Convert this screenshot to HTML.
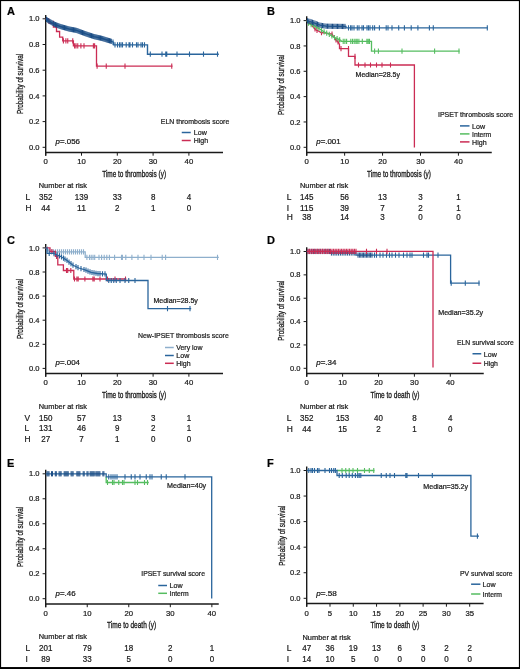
<!DOCTYPE html>
<html><head><meta charset="utf-8"><title>Figure</title>
<style>
html,body{margin:0;padding:0;background:#fff;}
body{width:520px;height:669px;overflow:hidden;}
svg{display:block;will-change:transform;}
text{stroke:#1a1a1a;stroke-width:0.22px;}
svg{font-family:"Liberation Sans",sans-serif;}
</style></head>
<body>
<svg width="520" height="669" viewBox="0 0 520 669">
<rect x="0" y="0" width="520" height="669" fill="#fff"/>
<text x="6.9" y="15" font-size="11" font-weight="bold" fill="#000">A</text>
<line x1="45.7" y1="15" x2="45.7" y2="155.7" stroke="#1a1a1a" stroke-width="1.4"/>
<line x1="45" y1="152.5" x2="223" y2="152.5" stroke="#1a1a1a" stroke-width="1.4"/>
<line x1="42.6" y1="18.8" x2="45.7" y2="18.8" stroke="#1a1a1a" stroke-width="1"/>
<text x="39.5" y="21.4" font-size="7.9" text-anchor="end" textLength="10.5" lengthAdjust="spacingAndGlyphs" fill="#1a1a1a">1.0</text>
<line x1="42.6" y1="44.5" x2="45.7" y2="44.5" stroke="#1a1a1a" stroke-width="1"/>
<text x="39.5" y="47.1" font-size="7.9" text-anchor="end" textLength="10.5" lengthAdjust="spacingAndGlyphs" fill="#1a1a1a">0.8</text>
<line x1="42.6" y1="70.2" x2="45.7" y2="70.2" stroke="#1a1a1a" stroke-width="1"/>
<text x="39.5" y="72.8" font-size="7.9" text-anchor="end" textLength="10.5" lengthAdjust="spacingAndGlyphs" fill="#1a1a1a">0.6</text>
<line x1="42.6" y1="95.9" x2="45.7" y2="95.9" stroke="#1a1a1a" stroke-width="1"/>
<text x="39.5" y="98.5" font-size="7.9" text-anchor="end" textLength="10.5" lengthAdjust="spacingAndGlyphs" fill="#1a1a1a">0.4</text>
<line x1="42.6" y1="121.6" x2="45.7" y2="121.6" stroke="#1a1a1a" stroke-width="1"/>
<text x="39.5" y="124.2" font-size="7.9" text-anchor="end" textLength="10.5" lengthAdjust="spacingAndGlyphs" fill="#1a1a1a">0.2</text>
<line x1="42.6" y1="147.3" x2="45.7" y2="147.3" stroke="#1a1a1a" stroke-width="1"/>
<text x="39.5" y="149.9" font-size="7.9" text-anchor="end" textLength="10.5" lengthAdjust="spacingAndGlyphs" fill="#1a1a1a">0.0</text>
<line x1="45.7" y1="152.5" x2="45.7" y2="155.7" stroke="#1a1a1a" stroke-width="1"/>
<text x="45.7" y="164.2" font-size="7.9" text-anchor="middle" textLength="4.3" lengthAdjust="spacingAndGlyphs" fill="#1a1a1a">0</text>
<line x1="81.5" y1="152.5" x2="81.5" y2="155.7" stroke="#1a1a1a" stroke-width="1"/>
<text x="81.5" y="164.2" font-size="7.9" text-anchor="middle" textLength="8.6" lengthAdjust="spacingAndGlyphs" fill="#1a1a1a">10</text>
<line x1="117.3" y1="152.5" x2="117.3" y2="155.7" stroke="#1a1a1a" stroke-width="1"/>
<text x="117.3" y="164.2" font-size="7.9" text-anchor="middle" textLength="8.6" lengthAdjust="spacingAndGlyphs" fill="#1a1a1a">20</text>
<line x1="153.1" y1="152.5" x2="153.1" y2="155.7" stroke="#1a1a1a" stroke-width="1"/>
<text x="153.1" y="164.2" font-size="7.9" text-anchor="middle" textLength="8.6" lengthAdjust="spacingAndGlyphs" fill="#1a1a1a">30</text>
<line x1="188.9" y1="152.5" x2="188.9" y2="155.7" stroke="#1a1a1a" stroke-width="1"/>
<text x="188.9" y="164.2" font-size="7.9" text-anchor="middle" textLength="8.6" lengthAdjust="spacingAndGlyphs" fill="#1a1a1a">40</text>
<text transform="translate(23 84) rotate(-90)" x="0" y="0" font-size="9.4" text-anchor="middle" textLength="60.2" lengthAdjust="spacingAndGlyphs" style="stroke-width:0.3px" fill="#1a1a1a">Probability of survival</text>
<text x="102.2" y="176.9" font-size="8.8" textLength="63.9" lengthAdjust="spacingAndGlyphs" fill="#1a1a1a" style="stroke-width:0.32px">Time to thrombosis (y)</text>
<text x="55.6" y="143.9" font-size="7.1" fill="#1a1a1a" textLength="24.4" lengthAdjust="spacingAndGlyphs"><tspan font-style="italic">p</tspan>=.056</text>
<text x="160.75" y="123.7" font-size="7.4" textLength="68.5" lengthAdjust="spacingAndGlyphs" fill="#1a1a1a">ELN thrombosis score</text>
<line x1="181.75" y1="132.5" x2="190.75" y2="132.5" stroke="#2a659c" stroke-width="1.5"/>
<text x="193.75" y="135.4" font-size="7.4" textLength="13" lengthAdjust="spacingAndGlyphs" fill="#1a1a1a">Low</text>
<line x1="181.75" y1="140.5" x2="190.75" y2="140.5" stroke="#cb2c54" stroke-width="1.5"/>
<text x="193.75" y="143.4" font-size="7.4" textLength="14.4" lengthAdjust="spacingAndGlyphs" fill="#1a1a1a">High</text>
<text x="38.75" y="187.9" font-size="7.3" textLength="48.2" lengthAdjust="spacingAndGlyphs" fill="#1a1a1a">Number at risk</text>
<text x="25.5" y="200" font-size="8.4" fill="#1a1a1a">L</text>
<text x="45.7" y="200" font-size="8.5" text-anchor="middle" textLength="13.35" lengthAdjust="spacingAndGlyphs" fill="#1a1a1a">352</text>
<text x="81.5" y="200" font-size="8.5" text-anchor="middle" textLength="13.35" lengthAdjust="spacingAndGlyphs" fill="#1a1a1a">139</text>
<text x="117.3" y="200" font-size="8.5" text-anchor="middle" textLength="8.9" lengthAdjust="spacingAndGlyphs" fill="#1a1a1a">33</text>
<text x="153.1" y="200" font-size="8.5" text-anchor="middle" textLength="4.45" lengthAdjust="spacingAndGlyphs" fill="#1a1a1a">8</text>
<text x="188.9" y="200" font-size="8.5" text-anchor="middle" textLength="4.45" lengthAdjust="spacingAndGlyphs" fill="#1a1a1a">4</text>
<text x="25.5" y="210.5" font-size="8.4" fill="#1a1a1a">H</text>
<text x="45.7" y="210.5" font-size="8.5" text-anchor="middle" textLength="8.9" lengthAdjust="spacingAndGlyphs" fill="#1a1a1a">44</text>
<text x="81.5" y="210.5" font-size="8.5" text-anchor="middle" textLength="8.9" lengthAdjust="spacingAndGlyphs" fill="#1a1a1a">11</text>
<text x="117.3" y="210.5" font-size="8.5" text-anchor="middle" textLength="4.45" lengthAdjust="spacingAndGlyphs" fill="#1a1a1a">2</text>
<text x="153.1" y="210.5" font-size="8.5" text-anchor="middle" textLength="4.45" lengthAdjust="spacingAndGlyphs" fill="#1a1a1a">1</text>
<text x="188.9" y="210.5" font-size="8.5" text-anchor="middle" textLength="4.45" lengthAdjust="spacingAndGlyphs" fill="#1a1a1a">0</text>
<path d="M45.7 18.8 L48.5 18.8 L48.5 21.5 L50 21.5 L50 23.4 L53.4 23.4 L53.4 27 L56.5 27 L56.5 31.5 L59.6 31.5 L59.6 37.1 L62.75 37.1 L62.75 40.9 L73.4 40.9 L73.4 45.9 L96.5 45.9 L96.5 66.2 L172.5 66.2" fill="none" stroke="#cb2c54" stroke-width="1.3" stroke-linejoin="miter"/>
<path d="M49 18.9v5.2M53.4 20.8v5.2M56.5 24.4v5.2M63.4 38.3v5.2M65.9 38.3v5.2M67.75 38.3v5.2M72.75 38.3v5.2M74.6 43.3v5.2M76 43.3v5.2M77.75 43.3v5.2M80.9 43.3v5.2M84 43.3v5.2M93.4 43.3v5.2M94.6 43.3v5.2M97.1 63.6v5.2M106.25 63.6v5.2M125 63.6v5.2M171.75 63.6v5.2" stroke="#cb2c54" stroke-width="1.1" fill="none"/>
<path d="M45.7 18.8 L48 20.5 L52 22.8 L55.3 24.6 L60.3 26.5 L69 29 L76.5 30.4 L85.3 33.7 L94 36.6 L101.5 38.3 L107 40 L111 41.2 L113.5 42.3 L113.5 44.9 L147.5 44.9 L147.5 54.2 L218.8 54.2" fill="none" stroke="#2a659c" stroke-width="1.4" stroke-linejoin="miter"/>
<path d="M113 39.48v5.2M115 42.3v5.2M117.5 42.3v5.2M119.5 42.3v5.2M121 42.3v5.2M122.5 42.3v5.2M126.2 42.3v5.2M129 42.3v5.2M130 42.3v5.2M132.5 42.3v5.2M136.5 42.3v5.2M138 42.3v5.2M141 42.3v5.2M142.5 42.3v5.2M144.5 42.3v5.2M150.3 51.6v5.2M162 51.6v5.2M165.75 51.6v5.2M166.75 51.6v5.2M177 51.6v5.2M189.5 51.6v5.2M203.5 51.6v5.2M217.5 51.6v5.2" stroke="#2a659c" stroke-width="1.1" fill="none"/>
<path d="M46.5 16.79v5.2M47.4 17.46v5.2M48.3 18.07v5.2M49.2 18.59v5.2M50.1 19.11v5.2M51 19.62v5.2M51.9 20.14v5.2M52.8 20.64v5.2M53.7 21.13v5.2M54.6 21.62v5.2M55.5 22.08v5.2M56.4 22.42v5.2M57.3 22.76v5.2M58.2 23.1v5.2M59.1 23.44v5.2M60 23.79v5.2M60.9 24.07v5.2M61.8 24.33v5.2M62.7 24.59v5.2M63.6 24.85v5.2M64.5 25.11v5.2M65.4 25.37v5.2M66.3 25.62v5.2M67.2 25.88v5.2M68.1 26.14v5.2M69 26.4v5.2M69.9 26.57v5.2M70.8 26.74v5.2M71.7 26.9v5.2M72.6 27.07v5.2M73.5 27.24v5.2M74.4 27.41v5.2M75.3 27.58v5.2M76.2 27.74v5.2M77.1 28.02v5.2M78 28.36v5.2M78.9 28.7v5.2M79.8 29.04v5.2M80.7 29.38v5.2M81.6 29.71v5.2M82.5 30.05v5.2M83.4 30.39v5.2M84.3 30.73v5.2M85.2 31.06v5.2M86.1 31.37v5.2M87 31.67v5.2M87.9 31.97v5.2M88.8 32.27v5.2M89.7 32.57v5.2M90.6 32.87v5.2M91.5 33.17v5.2M92.4 33.47v5.2M93.3 33.77v5.2M94.2 34.05v5.2M95.1 34.25v5.2M96 34.45v5.2M96.9 34.66v5.2M97.8 34.86v5.2M98.7 35.07v5.2M99.6 35.27v5.2M100.5 35.47v5.2M101.4 35.68v5.2M102.3 35.95v5.2M103.2 36.23v5.2M104.1 36.5v5.2M105 36.78v5.2M105.9 37.06v5.2M106.8 37.34v5.2M107.7 37.61v5.2M108.6 37.88v5.2M109.5 38.15v5.2M110.4 38.42v5.2M111.3 38.73v5.2" stroke="#1b4d85" stroke-width="1" fill="none"/>
<text x="266.9" y="15" font-size="11" font-weight="bold" fill="#000">B</text>
<line x1="306.7" y1="16.25" x2="306.7" y2="155.7" stroke="#1a1a1a" stroke-width="1.4"/>
<line x1="306" y1="152.5" x2="491.75" y2="152.5" stroke="#1a1a1a" stroke-width="1.4"/>
<line x1="303.6" y1="20.6" x2="306.7" y2="20.6" stroke="#1a1a1a" stroke-width="1"/>
<text x="300.5" y="23.2" font-size="7.9" text-anchor="end" textLength="10.5" lengthAdjust="spacingAndGlyphs" fill="#1a1a1a">1.0</text>
<line x1="303.6" y1="45.94" x2="306.7" y2="45.94" stroke="#1a1a1a" stroke-width="1"/>
<text x="300.5" y="48.54" font-size="7.9" text-anchor="end" textLength="10.5" lengthAdjust="spacingAndGlyphs" fill="#1a1a1a">0.8</text>
<line x1="303.6" y1="71.28" x2="306.7" y2="71.28" stroke="#1a1a1a" stroke-width="1"/>
<text x="300.5" y="73.88" font-size="7.9" text-anchor="end" textLength="10.5" lengthAdjust="spacingAndGlyphs" fill="#1a1a1a">0.6</text>
<line x1="303.6" y1="96.62" x2="306.7" y2="96.62" stroke="#1a1a1a" stroke-width="1"/>
<text x="300.5" y="99.22" font-size="7.9" text-anchor="end" textLength="10.5" lengthAdjust="spacingAndGlyphs" fill="#1a1a1a">0.4</text>
<line x1="303.6" y1="121.96" x2="306.7" y2="121.96" stroke="#1a1a1a" stroke-width="1"/>
<text x="300.5" y="124.56" font-size="7.9" text-anchor="end" textLength="10.5" lengthAdjust="spacingAndGlyphs" fill="#1a1a1a">0.2</text>
<line x1="303.6" y1="147.3" x2="306.7" y2="147.3" stroke="#1a1a1a" stroke-width="1"/>
<text x="300.5" y="149.9" font-size="7.9" text-anchor="end" textLength="10.5" lengthAdjust="spacingAndGlyphs" fill="#1a1a1a">0.0</text>
<line x1="306.7" y1="152.5" x2="306.7" y2="155.7" stroke="#1a1a1a" stroke-width="1"/>
<text x="306.7" y="164.2" font-size="7.9" text-anchor="middle" textLength="4.3" lengthAdjust="spacingAndGlyphs" fill="#1a1a1a">0</text>
<line x1="344.63" y1="152.5" x2="344.63" y2="155.7" stroke="#1a1a1a" stroke-width="1"/>
<text x="344.63" y="164.2" font-size="7.9" text-anchor="middle" textLength="8.6" lengthAdjust="spacingAndGlyphs" fill="#1a1a1a">10</text>
<line x1="382.56" y1="152.5" x2="382.56" y2="155.7" stroke="#1a1a1a" stroke-width="1"/>
<text x="382.56" y="164.2" font-size="7.9" text-anchor="middle" textLength="8.6" lengthAdjust="spacingAndGlyphs" fill="#1a1a1a">20</text>
<line x1="420.49" y1="152.5" x2="420.49" y2="155.7" stroke="#1a1a1a" stroke-width="1"/>
<text x="420.49" y="164.2" font-size="7.9" text-anchor="middle" textLength="8.6" lengthAdjust="spacingAndGlyphs" fill="#1a1a1a">30</text>
<line x1="458.42" y1="152.5" x2="458.42" y2="155.7" stroke="#1a1a1a" stroke-width="1"/>
<text x="458.42" y="164.2" font-size="7.9" text-anchor="middle" textLength="8.6" lengthAdjust="spacingAndGlyphs" fill="#1a1a1a">40</text>
<text transform="translate(284 84.9) rotate(-90)" x="0" y="0" font-size="9.4" text-anchor="middle" textLength="60.2" lengthAdjust="spacingAndGlyphs" style="stroke-width:0.3px" fill="#1a1a1a">Probability of survival</text>
<text x="367" y="176.9" font-size="8.8" textLength="64" lengthAdjust="spacingAndGlyphs" fill="#1a1a1a" style="stroke-width:0.32px">Time to thrombosis (y)</text>
<text x="316.25" y="143.9" font-size="7.1" fill="#1a1a1a" textLength="24.4" lengthAdjust="spacingAndGlyphs"><tspan font-style="italic">p</tspan>=.001</text>
<text x="438" y="117.1" font-size="7.4" textLength="75.25" lengthAdjust="spacingAndGlyphs" fill="#1a1a1a">IPSET thrombosis score</text>
<line x1="460" y1="125.9" x2="469.5" y2="125.9" stroke="#2a659c" stroke-width="1.5"/>
<text x="472" y="128.8" font-size="7.4" textLength="13" lengthAdjust="spacingAndGlyphs" fill="#1a1a1a">Low</text>
<line x1="460" y1="133.9" x2="469.5" y2="133.9" stroke="#55bd60" stroke-width="1.5"/>
<text x="472" y="136.8" font-size="7.4" textLength="19.25" lengthAdjust="spacingAndGlyphs" fill="#1a1a1a">Interm</text>
<line x1="460" y1="141.9" x2="469.5" y2="141.9" stroke="#cb2c54" stroke-width="1.5"/>
<text x="472" y="144.8" font-size="7.4" textLength="14.6" lengthAdjust="spacingAndGlyphs" fill="#1a1a1a">High</text>
<text x="355.6" y="77.3" font-size="7" textLength="44.4" lengthAdjust="spacingAndGlyphs" fill="#1a1a1a">Median=28.5y</text>
<text x="300" y="188.1" font-size="7.3" textLength="48.2" lengthAdjust="spacingAndGlyphs" fill="#1a1a1a">Number at risk</text>
<text x="286.8" y="199.8" font-size="8.4" fill="#1a1a1a">L</text>
<text x="306.7" y="199.8" font-size="8.5" text-anchor="middle" textLength="13.35" lengthAdjust="spacingAndGlyphs" fill="#1a1a1a">145</text>
<text x="344.63" y="199.8" font-size="8.5" text-anchor="middle" textLength="8.9" lengthAdjust="spacingAndGlyphs" fill="#1a1a1a">56</text>
<text x="382.56" y="199.8" font-size="8.5" text-anchor="middle" textLength="8.9" lengthAdjust="spacingAndGlyphs" fill="#1a1a1a">13</text>
<text x="420.49" y="199.8" font-size="8.5" text-anchor="middle" textLength="4.45" lengthAdjust="spacingAndGlyphs" fill="#1a1a1a">3</text>
<text x="458.42" y="199.8" font-size="8.5" text-anchor="middle" textLength="4.45" lengthAdjust="spacingAndGlyphs" fill="#1a1a1a">1</text>
<text x="286.8" y="210.6" font-size="8.4" fill="#1a1a1a">I</text>
<text x="306.7" y="210.6" font-size="8.5" text-anchor="middle" textLength="13.35" lengthAdjust="spacingAndGlyphs" fill="#1a1a1a">115</text>
<text x="344.63" y="210.6" font-size="8.5" text-anchor="middle" textLength="8.9" lengthAdjust="spacingAndGlyphs" fill="#1a1a1a">39</text>
<text x="382.56" y="210.6" font-size="8.5" text-anchor="middle" textLength="4.45" lengthAdjust="spacingAndGlyphs" fill="#1a1a1a">7</text>
<text x="420.49" y="210.6" font-size="8.5" text-anchor="middle" textLength="4.45" lengthAdjust="spacingAndGlyphs" fill="#1a1a1a">2</text>
<text x="458.42" y="210.6" font-size="8.5" text-anchor="middle" textLength="4.45" lengthAdjust="spacingAndGlyphs" fill="#1a1a1a">1</text>
<text x="286.8" y="220.2" font-size="8.4" fill="#1a1a1a">H</text>
<text x="306.7" y="220.2" font-size="8.5" text-anchor="middle" textLength="8.9" lengthAdjust="spacingAndGlyphs" fill="#1a1a1a">38</text>
<text x="344.63" y="220.2" font-size="8.5" text-anchor="middle" textLength="8.9" lengthAdjust="spacingAndGlyphs" fill="#1a1a1a">14</text>
<text x="382.56" y="220.2" font-size="8.5" text-anchor="middle" textLength="4.45" lengthAdjust="spacingAndGlyphs" fill="#1a1a1a">3</text>
<text x="420.49" y="220.2" font-size="8.5" text-anchor="middle" textLength="4.45" lengthAdjust="spacingAndGlyphs" fill="#1a1a1a">0</text>
<text x="458.42" y="220.2" font-size="8.5" text-anchor="middle" textLength="4.45" lengthAdjust="spacingAndGlyphs" fill="#1a1a1a">0</text>
<path d="M306.7 20.6 L309 22.5 L312 25.5 L314 28 L316 30 L318 30.8 L321 32.5 L326 33.2 L332 34 L334 37 L336 40 L338 42 L339.5 44.5 L339.5 48.6 L348.5 48.6 L348.5 56.4 L355 56.4 L355 65 L414.4 65 L414.4 147.4" fill="none" stroke="#cb2c54" stroke-width="1.3" stroke-linejoin="miter"/>
<path d="M315 26.4v5.2M317 27.8v5.2M321.5 29.97v5.2M332 31.4v5.2M336 37.4v5.2M338 39.4v5.2M341 46v5.2M348.5 46v5.2M355 53.8v5.2M358.5 62.4v5.2M365 62.4v5.2M370.5 62.4v5.2M376.5 62.4v5.2M382 62.4v5.2M390.5 62.4v5.2" stroke="#cb2c54" stroke-width="1.1" fill="none"/>
<path d="M306.7 20.6 L309 23.8 L313.7 25.7 L316.8 27.2 L320.6 29.5 L324.5 32.2 L328.3 33.8 L331.4 35.7 L334.5 37.6 L338.3 39.2 L341 40.5 L341 41.4 L371.5 41.4 L371.5 51.2 L459.6 51.2" fill="none" stroke="#55bd60" stroke-width="1.3" stroke-linejoin="miter"/>
<path d="M308.5 20.5v5.2M311.1 22.05v5.2M313.7 23.1v5.2M316.3 24.36v5.2M318.9 25.87v5.2M321.5 27.52v5.2M324.1 29.32v5.2M326.7 30.53v5.2M329.3 31.81v5.2M331.9 33.41v5.2M334.5 35v5.2M337.1 36.09v5.2M339.7 37.27v5.2M339.4 37.13v5.2M343.2 38.8v5.2M344.9 38.8v5.2M346.6 38.8v5.2M350.8 38.8v5.2M352.5 38.8v5.2M354.2 38.8v5.2M355.9 38.8v5.2M357.2 38.8v5.2M358.9 38.8v5.2M362.3 38.8v5.2M366.9 38.8v5.2M368.2 38.8v5.2M369.5 38.8v5.2M374.6 48.6v5.2M378.4 48.6v5.2M402 48.6v5.2M434.6 48.6v5.2M459 48.6v5.2" stroke="#55bd60" stroke-width="1.1" fill="none"/>
<path d="M306.7 20.6 L310 21.5 L314 22.8 L320 25.2 L326 26.2 L346 26.5 L346 27.9 L487.7 27.9" fill="none" stroke="#2a659c" stroke-width="1.3" stroke-linejoin="miter"/>
<path d="M348.5 25.3v5.2M350.6 25.3v5.2M352 25.3v5.2M354 25.3v5.2M357.3 25.3v5.2M359 25.3v5.2M362 25.3v5.2M363.5 25.3v5.2M367 25.3v5.2M368.5 25.3v5.2M370 25.3v5.2M372.7 25.3v5.2M374.6 25.3v5.2M379.4 25.3v5.2M386.2 25.3v5.2M388 25.3v5.2M392 25.3v5.2M398.7 25.3v5.2M404.4 25.3v5.2M411.2 25.3v5.2M417.9 25.3v5.2M429.4 25.3v5.2M433.3 25.3v5.2M487.3 25.3v5.2" stroke="#2a659c" stroke-width="1.1" fill="none"/>
<path d="M307.5 18.22v5.2M308.75 18.56v5.2M310 18.9v5.2M311.25 19.31v5.2M312.5 19.71v5.2M313.75 20.12v5.2M315 20.6v5.2M316.25 21.1v5.2M317.5 21.6v5.2M318.75 22.1v5.2M320 22.6v5.2M321.25 22.81v5.2M322.5 23.02v5.2M323.75 23.22v5.2M325 23.43v5.2M326.25 23.6v5.2M327.5 23.62v5.2M328.75 23.64v5.2M330 23.66v5.2M331.25 23.68v5.2M332.5 23.7v5.2M333.75 23.72v5.2M335 23.73v5.2M336.25 23.75v5.2M337.5 23.77v5.2M338.75 23.79v5.2M340 23.81v5.2M341.25 23.83v5.2M342.5 23.85v5.2M343.75 23.87v5.2M345 23.88v5.2" stroke="#1b4d85" stroke-width="1" fill="none"/>
<text x="6.9" y="243.75" font-size="11" font-weight="bold" fill="#000">C</text>
<line x1="45.7" y1="244" x2="45.7" y2="376.7" stroke="#1a1a1a" stroke-width="1.4"/>
<line x1="45" y1="373.5" x2="223" y2="373.5" stroke="#1a1a1a" stroke-width="1.4"/>
<line x1="42.6" y1="247.9" x2="45.7" y2="247.9" stroke="#1a1a1a" stroke-width="1"/>
<text x="39.5" y="250.5" font-size="7.9" text-anchor="end" textLength="10.5" lengthAdjust="spacingAndGlyphs" fill="#1a1a1a">1.0</text>
<line x1="42.6" y1="272" x2="45.7" y2="272" stroke="#1a1a1a" stroke-width="1"/>
<text x="39.5" y="274.6" font-size="7.9" text-anchor="end" textLength="10.5" lengthAdjust="spacingAndGlyphs" fill="#1a1a1a">0.8</text>
<line x1="42.6" y1="296.1" x2="45.7" y2="296.1" stroke="#1a1a1a" stroke-width="1"/>
<text x="39.5" y="298.7" font-size="7.9" text-anchor="end" textLength="10.5" lengthAdjust="spacingAndGlyphs" fill="#1a1a1a">0.6</text>
<line x1="42.6" y1="320.2" x2="45.7" y2="320.2" stroke="#1a1a1a" stroke-width="1"/>
<text x="39.5" y="322.8" font-size="7.9" text-anchor="end" textLength="10.5" lengthAdjust="spacingAndGlyphs" fill="#1a1a1a">0.4</text>
<line x1="42.6" y1="344.3" x2="45.7" y2="344.3" stroke="#1a1a1a" stroke-width="1"/>
<text x="39.5" y="346.9" font-size="7.9" text-anchor="end" textLength="10.5" lengthAdjust="spacingAndGlyphs" fill="#1a1a1a">0.2</text>
<line x1="42.6" y1="368.4" x2="45.7" y2="368.4" stroke="#1a1a1a" stroke-width="1"/>
<text x="39.5" y="371" font-size="7.9" text-anchor="end" textLength="10.5" lengthAdjust="spacingAndGlyphs" fill="#1a1a1a">0.0</text>
<line x1="45.7" y1="373.5" x2="45.7" y2="376.7" stroke="#1a1a1a" stroke-width="1"/>
<text x="45.7" y="385.3" font-size="7.9" text-anchor="middle" textLength="4.3" lengthAdjust="spacingAndGlyphs" fill="#1a1a1a">0</text>
<line x1="81.5" y1="373.5" x2="81.5" y2="376.7" stroke="#1a1a1a" stroke-width="1"/>
<text x="81.5" y="385.3" font-size="7.9" text-anchor="middle" textLength="8.6" lengthAdjust="spacingAndGlyphs" fill="#1a1a1a">10</text>
<line x1="117.3" y1="373.5" x2="117.3" y2="376.7" stroke="#1a1a1a" stroke-width="1"/>
<text x="117.3" y="385.3" font-size="7.9" text-anchor="middle" textLength="8.6" lengthAdjust="spacingAndGlyphs" fill="#1a1a1a">20</text>
<line x1="153.1" y1="373.5" x2="153.1" y2="376.7" stroke="#1a1a1a" stroke-width="1"/>
<text x="153.1" y="385.3" font-size="7.9" text-anchor="middle" textLength="8.6" lengthAdjust="spacingAndGlyphs" fill="#1a1a1a">30</text>
<line x1="188.9" y1="373.5" x2="188.9" y2="376.7" stroke="#1a1a1a" stroke-width="1"/>
<text x="188.9" y="385.3" font-size="7.9" text-anchor="middle" textLength="8.6" lengthAdjust="spacingAndGlyphs" fill="#1a1a1a">40</text>
<text transform="translate(23.1 309) rotate(-90)" x="0" y="0" font-size="9.4" text-anchor="middle" textLength="60.2" lengthAdjust="spacingAndGlyphs" style="stroke-width:0.3px" fill="#1a1a1a">Probability of survival</text>
<text x="102" y="397.9" font-size="8.8" textLength="64.2" lengthAdjust="spacingAndGlyphs" fill="#1a1a1a" style="stroke-width:0.32px">Time to thrombosis (y)</text>
<text x="55.6" y="365.1" font-size="7.1" fill="#1a1a1a" textLength="24.4" lengthAdjust="spacingAndGlyphs"><tspan font-style="italic">p</tspan>=.004</text>
<text x="138" y="338.1" font-size="7.4" textLength="90.75" lengthAdjust="spacingAndGlyphs" fill="#1a1a1a">New-IPSET thrombosis score</text>
<line x1="165" y1="347.5" x2="173.75" y2="347.5" stroke="#8eafcc" stroke-width="1.5"/>
<text x="176.25" y="350.4" font-size="7.4" textLength="26.25" lengthAdjust="spacingAndGlyphs" fill="#1a1a1a">Very low</text>
<line x1="165" y1="355.5" x2="173.75" y2="355.5" stroke="#2a659c" stroke-width="1.5"/>
<text x="176.25" y="358.4" font-size="7.4" textLength="13" lengthAdjust="spacingAndGlyphs" fill="#1a1a1a">Low</text>
<line x1="165" y1="363.3" x2="173.75" y2="363.3" stroke="#cb2c54" stroke-width="1.5"/>
<text x="176.25" y="366.2" font-size="7.4" textLength="14.4" lengthAdjust="spacingAndGlyphs" fill="#1a1a1a">High</text>
<text x="153.4" y="302.9" font-size="7" textLength="44.5" lengthAdjust="spacingAndGlyphs" fill="#1a1a1a">Median=28.5y</text>
<text x="38.75" y="409.1" font-size="7.3" textLength="48.2" lengthAdjust="spacingAndGlyphs" fill="#1a1a1a">Number at risk</text>
<text x="24.5" y="420.9" font-size="8.4" fill="#1a1a1a">V</text>
<text x="45.7" y="420.9" font-size="8.5" text-anchor="middle" textLength="13.35" lengthAdjust="spacingAndGlyphs" fill="#1a1a1a">150</text>
<text x="81.5" y="420.9" font-size="8.5" text-anchor="middle" textLength="8.9" lengthAdjust="spacingAndGlyphs" fill="#1a1a1a">57</text>
<text x="117.3" y="420.9" font-size="8.5" text-anchor="middle" textLength="8.9" lengthAdjust="spacingAndGlyphs" fill="#1a1a1a">13</text>
<text x="153.1" y="420.9" font-size="8.5" text-anchor="middle" textLength="4.45" lengthAdjust="spacingAndGlyphs" fill="#1a1a1a">3</text>
<text x="188.9" y="420.9" font-size="8.5" text-anchor="middle" textLength="4.45" lengthAdjust="spacingAndGlyphs" fill="#1a1a1a">1</text>
<text x="24.5" y="431.4" font-size="8.4" fill="#1a1a1a">L</text>
<text x="45.7" y="431.4" font-size="8.5" text-anchor="middle" textLength="13.35" lengthAdjust="spacingAndGlyphs" fill="#1a1a1a">131</text>
<text x="81.5" y="431.4" font-size="8.5" text-anchor="middle" textLength="8.9" lengthAdjust="spacingAndGlyphs" fill="#1a1a1a">46</text>
<text x="117.3" y="431.4" font-size="8.5" text-anchor="middle" textLength="4.45" lengthAdjust="spacingAndGlyphs" fill="#1a1a1a">9</text>
<text x="153.1" y="431.4" font-size="8.5" text-anchor="middle" textLength="4.45" lengthAdjust="spacingAndGlyphs" fill="#1a1a1a">2</text>
<text x="188.9" y="431.4" font-size="8.5" text-anchor="middle" textLength="4.45" lengthAdjust="spacingAndGlyphs" fill="#1a1a1a">1</text>
<text x="24.5" y="441.9" font-size="8.4" fill="#1a1a1a">H</text>
<text x="45.7" y="441.9" font-size="8.5" text-anchor="middle" textLength="8.9" lengthAdjust="spacingAndGlyphs" fill="#1a1a1a">27</text>
<text x="81.5" y="441.9" font-size="8.5" text-anchor="middle" textLength="4.45" lengthAdjust="spacingAndGlyphs" fill="#1a1a1a">7</text>
<text x="117.3" y="441.9" font-size="8.5" text-anchor="middle" textLength="4.45" lengthAdjust="spacingAndGlyphs" fill="#1a1a1a">1</text>
<text x="153.1" y="441.9" font-size="8.5" text-anchor="middle" textLength="4.45" lengthAdjust="spacingAndGlyphs" fill="#1a1a1a">0</text>
<text x="188.9" y="441.9" font-size="8.5" text-anchor="middle" textLength="4.45" lengthAdjust="spacingAndGlyphs" fill="#1a1a1a">0</text>
<path d="M45.7 247.9 L48 249.5 L50 251.8 L85.2 251.8 L85.2 257.4 L218.8 257.4" fill="none" stroke="#8eafcc" stroke-width="1.3" stroke-linejoin="miter"/>
<path d="M47.5 246.55v5.2M49.5 248.63v5.2M51.5 249.2v5.2M53.5 249.2v5.2M55.5 249.2v5.2M57.5 249.2v5.2M59.5 249.2v5.2M61.5 249.2v5.2M63.5 249.2v5.2M65.5 249.2v5.2M67.5 249.2v5.2M69.5 249.2v5.2M71.5 249.2v5.2M73.5 249.2v5.2M75.5 249.2v5.2M77.5 249.2v5.2M79.5 249.2v5.2M81.5 249.2v5.2M83.5 249.2v5.2M86.9 254.8v5.2M89.5 254.8v5.2M91.2 254.8v5.2M93 254.8v5.2M94.7 254.8v5.2M99 254.8v5.2M101.6 254.8v5.2M104.2 254.8v5.2M106.8 254.8v5.2M109.4 254.8v5.2M114.6 254.8v5.2M121.5 254.8v5.2M122.4 254.8v5.2M125.8 254.8v5.2M131.9 254.8v5.2M138 254.8v5.2M144 254.8v5.2M151 254.8v5.2M162.2 254.8v5.2M165.6 254.8v5.2M217.5 254.8v5.2" stroke="#8eafcc" stroke-width="1.1" fill="none"/>
<path d="M45.7 247.9 L50 247.9 L50 251.5 L55.4 251.5 L55.4 256.3 L57.8 256.3 L57.8 264.9 L63.4 264.9 L63.4 270.5 L73.8 270.5 L73.8 279 L126.3 279" fill="none" stroke="#cb2c54" stroke-width="1.3" stroke-linejoin="miter"/>
<path d="M52 248.9v5.2M56.5 253.7v5.2M66.5 267.9v5.2M67.7 267.9v5.2M70.8 267.9v5.2M74.5 276.4v5.2M76.9 276.4v5.2M78.2 276.4v5.2M84.9 276.4v5.2M92.9 276.4v5.2M94.2 276.4v5.2M100 276.4v5.2M107.5 276.4v5.2M115 276.4v5.2M125.5 276.4v5.2" stroke="#cb2c54" stroke-width="1.1" fill="none"/>
<path d="M45.7 247.9 L47 247.9 L47 253.3 L53.5 253.3 L55 254 L60.3 256.3 L66.5 260 L72.6 265 L78.8 268 L85 269.8 L91 272.3 L97.2 273.5 L106.3 274 L106.3 280.5 L148 280.5 L148 308.7 L191.2 308.7" fill="none" stroke="#2a659c" stroke-width="1.3" stroke-linejoin="miter"/>
<path d="M49.2 250.7v5.2M54 250.93v5.2M57 252.27v5.2M59.5 253.35v5.2M61.5 254.42v5.2M63.5 255.61v5.2M65 256.5v5.2M67 257.81v5.2M69 259.45v5.2M71 261.09v5.2M73 262.59v5.2M76 264.05v5.2M78 265.01v5.2M81 266.04v5.2M84 266.91v5.2M86 267.62v5.2M88 268.45v5.2M90 269.28v5.2M92 269.89v5.2M94 270.28v5.2M96 270.67v5.2M98 270.94v5.2M100 271.05v5.2M102.5 271.19v5.2M105 271.33v5.2M108.75 277.9v5.2M111.25 277.9v5.2M113.75 277.9v5.2M116.25 277.9v5.2M120 277.9v5.2M125 277.9v5.2M128.75 277.9v5.2M135 277.9v5.2M167.5 306.1v5.2M190 306.1v5.2" stroke="#2a659c" stroke-width="1.1" fill="none"/>
<text x="266.9" y="244" font-size="11" font-weight="bold" fill="#000">D</text>
<line x1="306.7" y1="247.25" x2="306.7" y2="376.7" stroke="#1a1a1a" stroke-width="1.4"/>
<line x1="306" y1="373.5" x2="483.75" y2="373.5" stroke="#1a1a1a" stroke-width="1.4"/>
<line x1="303.6" y1="251.5" x2="306.7" y2="251.5" stroke="#1a1a1a" stroke-width="1"/>
<text x="300.5" y="254.1" font-size="7.9" text-anchor="end" textLength="10.5" lengthAdjust="spacingAndGlyphs" fill="#1a1a1a">1.0</text>
<line x1="303.6" y1="274.86" x2="306.7" y2="274.86" stroke="#1a1a1a" stroke-width="1"/>
<text x="300.5" y="277.46" font-size="7.9" text-anchor="end" textLength="10.5" lengthAdjust="spacingAndGlyphs" fill="#1a1a1a">0.8</text>
<line x1="303.6" y1="298.22" x2="306.7" y2="298.22" stroke="#1a1a1a" stroke-width="1"/>
<text x="300.5" y="300.82" font-size="7.9" text-anchor="end" textLength="10.5" lengthAdjust="spacingAndGlyphs" fill="#1a1a1a">0.6</text>
<line x1="303.6" y1="321.58" x2="306.7" y2="321.58" stroke="#1a1a1a" stroke-width="1"/>
<text x="300.5" y="324.18" font-size="7.9" text-anchor="end" textLength="10.5" lengthAdjust="spacingAndGlyphs" fill="#1a1a1a">0.4</text>
<line x1="303.6" y1="344.94" x2="306.7" y2="344.94" stroke="#1a1a1a" stroke-width="1"/>
<text x="300.5" y="347.54" font-size="7.9" text-anchor="end" textLength="10.5" lengthAdjust="spacingAndGlyphs" fill="#1a1a1a">0.2</text>
<line x1="303.6" y1="368.3" x2="306.7" y2="368.3" stroke="#1a1a1a" stroke-width="1"/>
<text x="300.5" y="370.9" font-size="7.9" text-anchor="end" textLength="10.5" lengthAdjust="spacingAndGlyphs" fill="#1a1a1a">0.0</text>
<line x1="306.7" y1="373.5" x2="306.7" y2="376.7" stroke="#1a1a1a" stroke-width="1"/>
<text x="306.7" y="385.3" font-size="7.9" text-anchor="middle" textLength="4.3" lengthAdjust="spacingAndGlyphs" fill="#1a1a1a">0</text>
<line x1="342.6" y1="373.5" x2="342.6" y2="376.7" stroke="#1a1a1a" stroke-width="1"/>
<text x="342.6" y="385.3" font-size="7.9" text-anchor="middle" textLength="8.6" lengthAdjust="spacingAndGlyphs" fill="#1a1a1a">10</text>
<line x1="378.5" y1="373.5" x2="378.5" y2="376.7" stroke="#1a1a1a" stroke-width="1"/>
<text x="378.5" y="385.3" font-size="7.9" text-anchor="middle" textLength="8.6" lengthAdjust="spacingAndGlyphs" fill="#1a1a1a">20</text>
<line x1="414.4" y1="373.5" x2="414.4" y2="376.7" stroke="#1a1a1a" stroke-width="1"/>
<text x="414.4" y="385.3" font-size="7.9" text-anchor="middle" textLength="8.6" lengthAdjust="spacingAndGlyphs" fill="#1a1a1a">30</text>
<line x1="450.3" y1="373.5" x2="450.3" y2="376.7" stroke="#1a1a1a" stroke-width="1"/>
<text x="450.3" y="385.3" font-size="7.9" text-anchor="middle" textLength="8.6" lengthAdjust="spacingAndGlyphs" fill="#1a1a1a">40</text>
<text transform="translate(284.3 310.6) rotate(-90)" x="0" y="0" font-size="9.4" text-anchor="middle" textLength="60.2" lengthAdjust="spacingAndGlyphs" style="stroke-width:0.3px" fill="#1a1a1a">Probability of survival</text>
<text x="370.5" y="397.9" font-size="8.8" textLength="49" lengthAdjust="spacingAndGlyphs" fill="#1a1a1a" style="stroke-width:0.32px">Time to death (y)</text>
<text x="316.25" y="365.1" font-size="7.1" fill="#1a1a1a" textLength="20.2" lengthAdjust="spacingAndGlyphs"><tspan font-style="italic">p</tspan>=.34</text>
<text x="457" y="345.3" font-size="7.4" textLength="56.75" lengthAdjust="spacingAndGlyphs" fill="#1a1a1a">ELN survival score</text>
<line x1="472.5" y1="353.75" x2="481.25" y2="353.75" stroke="#2a659c" stroke-width="1.5"/>
<text x="483.75" y="356.65" font-size="7.4" textLength="13" lengthAdjust="spacingAndGlyphs" fill="#1a1a1a">Low</text>
<line x1="472.5" y1="363.25" x2="481.25" y2="363.25" stroke="#cb2c54" stroke-width="1.5"/>
<text x="483.75" y="366.15" font-size="7.4" textLength="14.2" lengthAdjust="spacingAndGlyphs" fill="#1a1a1a">High</text>
<text x="438.2" y="314.8" font-size="7" textLength="45" lengthAdjust="spacingAndGlyphs" fill="#1a1a1a">Median=35.2y</text>
<text x="300" y="409.1" font-size="7.3" textLength="48.2" lengthAdjust="spacingAndGlyphs" fill="#1a1a1a">Number at risk</text>
<text x="286.8" y="420.6" font-size="8.4" fill="#1a1a1a">L</text>
<text x="306.7" y="420.6" font-size="8.5" text-anchor="middle" textLength="13.35" lengthAdjust="spacingAndGlyphs" fill="#1a1a1a">352</text>
<text x="342.6" y="420.6" font-size="8.5" text-anchor="middle" textLength="13.35" lengthAdjust="spacingAndGlyphs" fill="#1a1a1a">153</text>
<text x="378.5" y="420.6" font-size="8.5" text-anchor="middle" textLength="8.9" lengthAdjust="spacingAndGlyphs" fill="#1a1a1a">40</text>
<text x="414.4" y="420.6" font-size="8.5" text-anchor="middle" textLength="4.45" lengthAdjust="spacingAndGlyphs" fill="#1a1a1a">8</text>
<text x="450.3" y="420.6" font-size="8.5" text-anchor="middle" textLength="4.45" lengthAdjust="spacingAndGlyphs" fill="#1a1a1a">4</text>
<text x="286.8" y="431.8" font-size="8.4" fill="#1a1a1a">H</text>
<text x="306.7" y="431.8" font-size="8.5" text-anchor="middle" textLength="8.9" lengthAdjust="spacingAndGlyphs" fill="#1a1a1a">44</text>
<text x="342.6" y="431.8" font-size="8.5" text-anchor="middle" textLength="8.9" lengthAdjust="spacingAndGlyphs" fill="#1a1a1a">15</text>
<text x="378.5" y="431.8" font-size="8.5" text-anchor="middle" textLength="4.45" lengthAdjust="spacingAndGlyphs" fill="#1a1a1a">2</text>
<text x="414.4" y="431.8" font-size="8.5" text-anchor="middle" textLength="4.45" lengthAdjust="spacingAndGlyphs" fill="#1a1a1a">1</text>
<text x="450.3" y="431.8" font-size="8.5" text-anchor="middle" textLength="4.45" lengthAdjust="spacingAndGlyphs" fill="#1a1a1a">0</text>
<path d="M306.7 251.5 L330 251.5 L330 253 L356 253 L356 255.1 L450.6 255.1 L450.6 283.2 L479.6 283.2" fill="none" stroke="#2a659c" stroke-width="1.3" stroke-linejoin="miter"/>
<path d="M374.5 252.5v5.2M376.5 252.5v5.2M380 252.5v5.2M383 252.5v5.2M386.5 252.5v5.2M389.5 252.5v5.2M392 252.5v5.2M395.5 252.5v5.2M399 252.5v5.2M403.5 252.5v5.2M407 252.5v5.2M410 252.5v5.2M412 252.5v5.2M423.5 252.5v5.2M427 252.5v5.2M428.5 252.5v5.2M438 252.5v5.2M451.2 280.6v5.2M465.3 280.6v5.2M479 280.6v5.2" stroke="#2a659c" stroke-width="1.1" fill="none"/>
<path d="M308 248.9v5.2M309.8 248.9v5.2M311.6 248.9v5.2M313.4 248.9v5.2M315.2 248.9v5.2M317 248.9v5.2M318.8 248.9v5.2M320.6 248.9v5.2M322.4 248.9v5.2M324.2 248.9v5.2M326 248.9v5.2M327.8 248.9v5.2M329.6 248.9v5.2M331.4 250.4v5.2M333.2 250.4v5.2M335 250.4v5.2M336.8 250.4v5.2M338.6 250.4v5.2M340.4 250.4v5.2M342.2 250.4v5.2M344 250.4v5.2M345.8 250.4v5.2M347.6 250.4v5.2M349.4 250.4v5.2M351.2 250.4v5.2M353 250.4v5.2M354.8 250.4v5.2M358 252.5v5.2M359.4 252.5v5.2M360.8 252.5v5.2M362.2 252.5v5.2M363.6 252.5v5.2M365 252.5v5.2M366.4 252.5v5.2M367.8 252.5v5.2M369.2 252.5v5.2M370.6 252.5v5.2M372 252.5v5.2" stroke="#1b4d85" stroke-width="1" fill="none"/>
<path d="M306.7 251.3 L433 251.3 L433 367.4" fill="none" stroke="#cb2c54" stroke-width="1.3" stroke-linejoin="miter"/>
<path d="M308 248.7v5.2M309.6 248.7v5.2M311.2 248.7v5.2M312.8 248.7v5.2M314.4 248.7v5.2M316 248.7v5.2M317.6 248.7v5.2M319.2 248.7v5.2M320.8 248.7v5.2M322.4 248.7v5.2M324 248.7v5.2M325.6 248.7v5.2M327.2 248.7v5.2M328.8 248.7v5.2M330.4 248.7v5.2M332 248.7v5.2M333.6 248.7v5.2M335.2 248.7v5.2M336.8 248.7v5.2M338.4 248.7v5.2M340 248.7v5.2M341.6 248.7v5.2M343.2 248.7v5.2M344.8 248.7v5.2M346.4 248.7v5.2M348 248.7v5.2M349.6 248.7v5.2M351.2 248.7v5.2M352.8 248.7v5.2M354.4 248.7v5.2M356 248.7v5.2M366.5 248.7v5.2M376.5 248.7v5.2M387 248.7v5.2" stroke="#cb2c54" stroke-width="1.1" fill="none"/>
<text x="6.9" y="466.5" font-size="11" font-weight="bold" fill="#000">E</text>
<line x1="45.7" y1="469.75" x2="45.7" y2="607.2" stroke="#1a1a1a" stroke-width="1.4"/>
<line x1="45" y1="604" x2="218.75" y2="604" stroke="#1a1a1a" stroke-width="1.4"/>
<line x1="42.6" y1="473.8" x2="45.7" y2="473.8" stroke="#1a1a1a" stroke-width="1"/>
<text x="39.5" y="476.4" font-size="7.9" text-anchor="end" textLength="10.5" lengthAdjust="spacingAndGlyphs" fill="#1a1a1a">1.0</text>
<line x1="42.6" y1="498.78" x2="45.7" y2="498.78" stroke="#1a1a1a" stroke-width="1"/>
<text x="39.5" y="501.38" font-size="7.9" text-anchor="end" textLength="10.5" lengthAdjust="spacingAndGlyphs" fill="#1a1a1a">0.8</text>
<line x1="42.6" y1="523.76" x2="45.7" y2="523.76" stroke="#1a1a1a" stroke-width="1"/>
<text x="39.5" y="526.36" font-size="7.9" text-anchor="end" textLength="10.5" lengthAdjust="spacingAndGlyphs" fill="#1a1a1a">0.6</text>
<line x1="42.6" y1="548.74" x2="45.7" y2="548.74" stroke="#1a1a1a" stroke-width="1"/>
<text x="39.5" y="551.34" font-size="7.9" text-anchor="end" textLength="10.5" lengthAdjust="spacingAndGlyphs" fill="#1a1a1a">0.4</text>
<line x1="42.6" y1="573.72" x2="45.7" y2="573.72" stroke="#1a1a1a" stroke-width="1"/>
<text x="39.5" y="576.32" font-size="7.9" text-anchor="end" textLength="10.5" lengthAdjust="spacingAndGlyphs" fill="#1a1a1a">0.2</text>
<line x1="42.6" y1="598.7" x2="45.7" y2="598.7" stroke="#1a1a1a" stroke-width="1"/>
<text x="39.5" y="601.3" font-size="7.9" text-anchor="end" textLength="10.5" lengthAdjust="spacingAndGlyphs" fill="#1a1a1a">0.0</text>
<line x1="45.7" y1="604" x2="45.7" y2="607.2" stroke="#1a1a1a" stroke-width="1"/>
<text x="45.7" y="615.6" font-size="7.9" text-anchor="middle" textLength="4.3" lengthAdjust="spacingAndGlyphs" fill="#1a1a1a">0</text>
<line x1="87.24" y1="604" x2="87.24" y2="607.2" stroke="#1a1a1a" stroke-width="1"/>
<text x="87.24" y="615.6" font-size="7.9" text-anchor="middle" textLength="8.6" lengthAdjust="spacingAndGlyphs" fill="#1a1a1a">10</text>
<line x1="128.78" y1="604" x2="128.78" y2="607.2" stroke="#1a1a1a" stroke-width="1"/>
<text x="128.78" y="615.6" font-size="7.9" text-anchor="middle" textLength="8.6" lengthAdjust="spacingAndGlyphs" fill="#1a1a1a">20</text>
<line x1="170.32" y1="604" x2="170.32" y2="607.2" stroke="#1a1a1a" stroke-width="1"/>
<text x="170.32" y="615.6" font-size="7.9" text-anchor="middle" textLength="8.6" lengthAdjust="spacingAndGlyphs" fill="#1a1a1a">30</text>
<line x1="211.86" y1="604" x2="211.86" y2="607.2" stroke="#1a1a1a" stroke-width="1"/>
<text x="211.86" y="615.6" font-size="7.9" text-anchor="middle" textLength="8.6" lengthAdjust="spacingAndGlyphs" fill="#1a1a1a">40</text>
<text transform="translate(23 536.9) rotate(-90)" x="0" y="0" font-size="9.4" text-anchor="middle" textLength="60.2" lengthAdjust="spacingAndGlyphs" style="stroke-width:0.3px" fill="#1a1a1a">Probability of survival</text>
<text x="107" y="627.9" font-size="8.8" textLength="49.25" lengthAdjust="spacingAndGlyphs" fill="#1a1a1a" style="stroke-width:0.32px">Time to death (y)</text>
<text x="55.6" y="595.5" font-size="7.1" fill="#1a1a1a" textLength="20" lengthAdjust="spacingAndGlyphs"><tspan font-style="italic">p</tspan>=.46</text>
<text x="141.25" y="576.1" font-size="7.4" textLength="63.75" lengthAdjust="spacingAndGlyphs" fill="#1a1a1a">IPSET survival score</text>
<line x1="158.25" y1="585.5" x2="167" y2="585.5" stroke="#2a659c" stroke-width="1.5"/>
<text x="169.5" y="588.4" font-size="7.4" textLength="13" lengthAdjust="spacingAndGlyphs" fill="#1a1a1a">Low</text>
<line x1="158.25" y1="593.3" x2="167" y2="593.3" stroke="#55bd60" stroke-width="1.5"/>
<text x="169.5" y="596.2" font-size="7.4" textLength="19.25" lengthAdjust="spacingAndGlyphs" fill="#1a1a1a">Interm</text>
<text x="167" y="488.3" font-size="7" textLength="39.2" lengthAdjust="spacingAndGlyphs" fill="#1a1a1a">Median=40y</text>
<text x="38.75" y="639.1" font-size="7.3" textLength="48.2" lengthAdjust="spacingAndGlyphs" fill="#1a1a1a">Number at risk</text>
<text x="25.5" y="650.6" font-size="8.4" fill="#1a1a1a">L</text>
<text x="45.7" y="650.6" font-size="8.5" text-anchor="middle" textLength="13.35" lengthAdjust="spacingAndGlyphs" fill="#1a1a1a">201</text>
<text x="87.24" y="650.6" font-size="8.5" text-anchor="middle" textLength="8.9" lengthAdjust="spacingAndGlyphs" fill="#1a1a1a">79</text>
<text x="128.78" y="650.6" font-size="8.5" text-anchor="middle" textLength="8.9" lengthAdjust="spacingAndGlyphs" fill="#1a1a1a">18</text>
<text x="170.32" y="650.6" font-size="8.5" text-anchor="middle" textLength="4.45" lengthAdjust="spacingAndGlyphs" fill="#1a1a1a">2</text>
<text x="211.86" y="650.6" font-size="8.5" text-anchor="middle" textLength="4.45" lengthAdjust="spacingAndGlyphs" fill="#1a1a1a">1</text>
<text x="25.5" y="661.8" font-size="8.4" fill="#1a1a1a">I</text>
<text x="45.7" y="661.8" font-size="8.5" text-anchor="middle" textLength="8.9" lengthAdjust="spacingAndGlyphs" fill="#1a1a1a">89</text>
<text x="87.24" y="661.8" font-size="8.5" text-anchor="middle" textLength="8.9" lengthAdjust="spacingAndGlyphs" fill="#1a1a1a">33</text>
<text x="128.78" y="661.8" font-size="8.5" text-anchor="middle" textLength="4.45" lengthAdjust="spacingAndGlyphs" fill="#1a1a1a">5</text>
<text x="170.32" y="661.8" font-size="8.5" text-anchor="middle" textLength="4.45" lengthAdjust="spacingAndGlyphs" fill="#1a1a1a">0</text>
<text x="211.86" y="661.8" font-size="8.5" text-anchor="middle" textLength="4.45" lengthAdjust="spacingAndGlyphs" fill="#1a1a1a">0</text>
<path d="M106.2 476.8 L106.2 482.5 L148.8 482.5" fill="none" stroke="#55bd60" stroke-width="1.3" stroke-linejoin="miter"/>
<path d="M107.5 479.9v5.2M112.5 479.9v5.2M114 479.9v5.2M118.75 479.9v5.2M122.5 479.9v5.2M124 479.9v5.2M135 479.9v5.2M137.5 479.9v5.2M144.5 479.9v5.2M147.5 479.9v5.2" stroke="#55bd60" stroke-width="1.1" fill="none"/>
<path d="M45.7 473.8 L106.2 473.8 L106.2 476.8 L211.7 476.8 L211.7 598.6" fill="none" stroke="#2a659c" stroke-width="1.3" stroke-linejoin="miter"/>
<path d="M108.75 474.2v5.2M111 474.2v5.2M113 474.2v5.2M115 474.2v5.2M117 474.2v5.2M125 474.2v5.2M131.25 474.2v5.2M135 474.2v5.2M140 474.2v5.2M146.25 474.2v5.2M150 474.2v5.2M152 474.2v5.2M161.25 474.2v5.2M166.25 474.2v5.2M185 474.2v5.2" stroke="#2a659c" stroke-width="1.1" fill="none"/>
<path d="M47 471.2v5.2M48 471.2v5.2M49 471.2v5.2M51.5 471.2v5.2M52.5 471.2v5.2M55.3 471.2v5.2M56.3 471.2v5.2M59.1 471.2v5.2M60.1 471.2v5.2M61.1 471.2v5.2M64.2 471.2v5.2M65.2 471.2v5.2M66.2 471.2v5.2M67.2 471.2v5.2M68.2 471.2v5.2M71.1 471.2v5.2M72.1 471.2v5.2M73.1 471.2v5.2M76.9 471.2v5.2M77.9 471.2v5.2M78.9 471.2v5.2M79.9 471.2v5.2M83.2 471.2v5.2M84.2 471.2v5.2M87 471.2v5.2M88 471.2v5.2M90.2 471.2v5.2M91.2 471.2v5.2M92.2 471.2v5.2M93.2 471.2v5.2M94.2 471.2v5.2M95.9 471.2v5.2M96.9 471.2v5.2M97.9 471.2v5.2M98.9 471.2v5.2M99.9 471.2v5.2M102.9 471.2v5.2M103.9 471.2v5.2" stroke="#1b4d85" stroke-width="1" fill="none"/>
<text x="266.9" y="466.5" font-size="11" font-weight="bold" fill="#000">F</text>
<line x1="306.7" y1="466.5" x2="306.7" y2="606.7" stroke="#1a1a1a" stroke-width="1.4"/>
<line x1="306" y1="603.5" x2="483.6" y2="603.5" stroke="#1a1a1a" stroke-width="1.4"/>
<line x1="303.6" y1="470.5" x2="306.7" y2="470.5" stroke="#1a1a1a" stroke-width="1"/>
<text x="300.5" y="473.1" font-size="7.9" text-anchor="end" textLength="10.5" lengthAdjust="spacingAndGlyphs" fill="#1a1a1a">1.0</text>
<line x1="303.6" y1="496.06" x2="306.7" y2="496.06" stroke="#1a1a1a" stroke-width="1"/>
<text x="300.5" y="498.66" font-size="7.9" text-anchor="end" textLength="10.5" lengthAdjust="spacingAndGlyphs" fill="#1a1a1a">0.8</text>
<line x1="303.6" y1="521.62" x2="306.7" y2="521.62" stroke="#1a1a1a" stroke-width="1"/>
<text x="300.5" y="524.22" font-size="7.9" text-anchor="end" textLength="10.5" lengthAdjust="spacingAndGlyphs" fill="#1a1a1a">0.6</text>
<line x1="303.6" y1="547.18" x2="306.7" y2="547.18" stroke="#1a1a1a" stroke-width="1"/>
<text x="300.5" y="549.78" font-size="7.9" text-anchor="end" textLength="10.5" lengthAdjust="spacingAndGlyphs" fill="#1a1a1a">0.4</text>
<line x1="303.6" y1="572.74" x2="306.7" y2="572.74" stroke="#1a1a1a" stroke-width="1"/>
<text x="300.5" y="575.34" font-size="7.9" text-anchor="end" textLength="10.5" lengthAdjust="spacingAndGlyphs" fill="#1a1a1a">0.2</text>
<line x1="303.6" y1="598.3" x2="306.7" y2="598.3" stroke="#1a1a1a" stroke-width="1"/>
<text x="300.5" y="600.9" font-size="7.9" text-anchor="end" textLength="10.5" lengthAdjust="spacingAndGlyphs" fill="#1a1a1a">0.0</text>
<line x1="306.7" y1="603.5" x2="306.7" y2="606.7" stroke="#1a1a1a" stroke-width="1"/>
<text x="306.7" y="615.6" font-size="7.9" text-anchor="middle" textLength="4.3" lengthAdjust="spacingAndGlyphs" fill="#1a1a1a">0</text>
<line x1="329.99" y1="603.5" x2="329.99" y2="606.7" stroke="#1a1a1a" stroke-width="1"/>
<text x="329.99" y="615.6" font-size="7.9" text-anchor="middle" textLength="4.3" lengthAdjust="spacingAndGlyphs" fill="#1a1a1a">5</text>
<line x1="353.27" y1="603.5" x2="353.27" y2="606.7" stroke="#1a1a1a" stroke-width="1"/>
<text x="353.27" y="615.6" font-size="7.9" text-anchor="middle" textLength="8.6" lengthAdjust="spacingAndGlyphs" fill="#1a1a1a">10</text>
<line x1="376.56" y1="603.5" x2="376.56" y2="606.7" stroke="#1a1a1a" stroke-width="1"/>
<text x="376.56" y="615.6" font-size="7.9" text-anchor="middle" textLength="8.6" lengthAdjust="spacingAndGlyphs" fill="#1a1a1a">15</text>
<line x1="399.84" y1="603.5" x2="399.84" y2="606.7" stroke="#1a1a1a" stroke-width="1"/>
<text x="399.84" y="615.6" font-size="7.9" text-anchor="middle" textLength="8.6" lengthAdjust="spacingAndGlyphs" fill="#1a1a1a">20</text>
<line x1="423.12" y1="603.5" x2="423.12" y2="606.7" stroke="#1a1a1a" stroke-width="1"/>
<text x="423.12" y="615.6" font-size="7.9" text-anchor="middle" textLength="8.6" lengthAdjust="spacingAndGlyphs" fill="#1a1a1a">25</text>
<line x1="446.41" y1="603.5" x2="446.41" y2="606.7" stroke="#1a1a1a" stroke-width="1"/>
<text x="446.41" y="615.6" font-size="7.9" text-anchor="middle" textLength="8.6" lengthAdjust="spacingAndGlyphs" fill="#1a1a1a">30</text>
<line x1="469.69" y1="603.5" x2="469.69" y2="606.7" stroke="#1a1a1a" stroke-width="1"/>
<text x="469.69" y="615.6" font-size="7.9" text-anchor="middle" textLength="8.6" lengthAdjust="spacingAndGlyphs" fill="#1a1a1a">35</text>
<text transform="translate(284.6 535.7) rotate(-90)" x="0" y="0" font-size="9.4" text-anchor="middle" textLength="60.2" lengthAdjust="spacingAndGlyphs" style="stroke-width:0.3px" fill="#1a1a1a">Probability of survival</text>
<text x="370.5" y="628.1" font-size="8.8" textLength="49" lengthAdjust="spacingAndGlyphs" fill="#1a1a1a" style="stroke-width:0.32px">Time to death (y)</text>
<text x="316.25" y="595.5" font-size="7.1" fill="#1a1a1a" textLength="20.6" lengthAdjust="spacingAndGlyphs"><tspan font-style="italic">p</tspan>=.58</text>
<text x="460" y="576.1" font-size="7.4" textLength="52.6" lengthAdjust="spacingAndGlyphs" fill="#1a1a1a">PV survival score</text>
<line x1="471.1" y1="584.2" x2="480.4" y2="584.2" stroke="#2a659c" stroke-width="1.5"/>
<text x="482.6" y="587.1" font-size="7.4" textLength="13" lengthAdjust="spacingAndGlyphs" fill="#1a1a1a">Low</text>
<line x1="471.1" y1="594" x2="480.4" y2="594" stroke="#55bd60" stroke-width="1.5"/>
<text x="482.6" y="596.9" font-size="7.4" textLength="19.4" lengthAdjust="spacingAndGlyphs" fill="#1a1a1a">Interm</text>
<text x="423.3" y="488.7" font-size="7" textLength="44.8" lengthAdjust="spacingAndGlyphs" fill="#1a1a1a">Median=35.2y</text>
<text x="302.5" y="639.7" font-size="7.3" textLength="48.2" lengthAdjust="spacingAndGlyphs" fill="#1a1a1a">Number at risk</text>
<text x="286.8" y="650.8" font-size="8.4" fill="#1a1a1a">L</text>
<text x="306.7" y="650.8" font-size="8.5" text-anchor="middle" textLength="8.9" lengthAdjust="spacingAndGlyphs" fill="#1a1a1a">47</text>
<text x="329.99" y="650.8" font-size="8.5" text-anchor="middle" textLength="8.9" lengthAdjust="spacingAndGlyphs" fill="#1a1a1a">36</text>
<text x="353.27" y="650.8" font-size="8.5" text-anchor="middle" textLength="8.9" lengthAdjust="spacingAndGlyphs" fill="#1a1a1a">19</text>
<text x="376.56" y="650.8" font-size="8.5" text-anchor="middle" textLength="8.9" lengthAdjust="spacingAndGlyphs" fill="#1a1a1a">13</text>
<text x="399.84" y="650.8" font-size="8.5" text-anchor="middle" textLength="4.45" lengthAdjust="spacingAndGlyphs" fill="#1a1a1a">6</text>
<text x="423.12" y="650.8" font-size="8.5" text-anchor="middle" textLength="4.45" lengthAdjust="spacingAndGlyphs" fill="#1a1a1a">3</text>
<text x="446.41" y="650.8" font-size="8.5" text-anchor="middle" textLength="4.45" lengthAdjust="spacingAndGlyphs" fill="#1a1a1a">2</text>
<text x="469.69" y="650.8" font-size="8.5" text-anchor="middle" textLength="4.45" lengthAdjust="spacingAndGlyphs" fill="#1a1a1a">2</text>
<text x="286.8" y="662.2" font-size="8.4" fill="#1a1a1a">I</text>
<text x="306.7" y="662.2" font-size="8.5" text-anchor="middle" textLength="8.9" lengthAdjust="spacingAndGlyphs" fill="#1a1a1a">14</text>
<text x="329.99" y="662.2" font-size="8.5" text-anchor="middle" textLength="8.9" lengthAdjust="spacingAndGlyphs" fill="#1a1a1a">10</text>
<text x="353.27" y="662.2" font-size="8.5" text-anchor="middle" textLength="4.45" lengthAdjust="spacingAndGlyphs" fill="#1a1a1a">5</text>
<text x="376.56" y="662.2" font-size="8.5" text-anchor="middle" textLength="4.45" lengthAdjust="spacingAndGlyphs" fill="#1a1a1a">0</text>
<text x="399.84" y="662.2" font-size="8.5" text-anchor="middle" textLength="4.45" lengthAdjust="spacingAndGlyphs" fill="#1a1a1a">0</text>
<text x="423.12" y="662.2" font-size="8.5" text-anchor="middle" textLength="4.45" lengthAdjust="spacingAndGlyphs" fill="#1a1a1a">0</text>
<text x="446.41" y="662.2" font-size="8.5" text-anchor="middle" textLength="4.45" lengthAdjust="spacingAndGlyphs" fill="#1a1a1a">0</text>
<text x="469.69" y="662.2" font-size="8.5" text-anchor="middle" textLength="4.45" lengthAdjust="spacingAndGlyphs" fill="#1a1a1a">0</text>
<path d="M337 470.5 L374.5 470.5" fill="none" stroke="#55bd60" stroke-width="1.3" stroke-linejoin="miter"/>
<path d="M342 467.9v5.2M345.75 467.9v5.2M349.2 467.9v5.2M353 467.9v5.2M357.5 467.9v5.2M364.5 467.9v5.2M369.3 467.9v5.2M373.75 467.9v5.2" stroke="#55bd60" stroke-width="1.1" fill="none"/>
<path d="M306.7 470.5 L337 470.5 L337 475.5 L470.9 475.5 L470.9 536.2 L479 536.2" fill="none" stroke="#2a659c" stroke-width="1.3" stroke-linejoin="miter"/>
<path d="M308.75 467.9v5.2M311 467.9v5.2M312.5 467.9v5.2M314.5 467.9v5.2M317.5 467.9v5.2M319 467.9v5.2M325 467.9v5.2M329.5 467.9v5.2M331.5 467.9v5.2M333.75 467.9v5.2M335.4 467.9v5.2M339.2 472.9v5.2M342.3 472.9v5.2M346.2 472.9v5.2M349.2 472.9v5.2M352.3 472.9v5.2M355.4 472.9v5.2M357.7 472.9v5.2M359.2 472.9v5.2M360.8 472.9v5.2M381.25 472.9v5.2M386.25 472.9v5.2M390 472.9v5.2M394.5 472.9v5.2M405.8 472.9v5.2M407 472.9v5.2M418.5 472.9v5.2M432.3 472.9v5.2M477.4 533.6v5.2" stroke="#2a659c" stroke-width="1.1" fill="none"/>
<rect x="0.5" y="0.5" width="519" height="667.2" fill="none" stroke="#000" stroke-width="1.2"/>
<line x1="0" y1="668.3" x2="520" y2="668.3" stroke="#000" stroke-width="1.6"/>
</svg>
</body></html>
